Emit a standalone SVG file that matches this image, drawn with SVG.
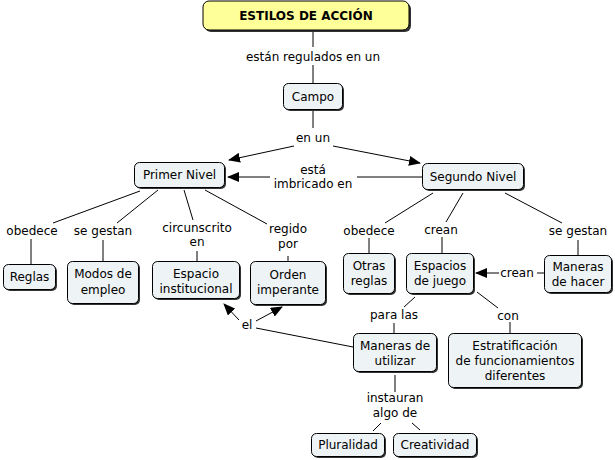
<svg xmlns="http://www.w3.org/2000/svg" width="615" height="460" viewBox="0 0 615 460">
<defs>
<marker id="ah" markerWidth="12" markerHeight="10" refX="11" refY="5" orient="auto" markerUnits="userSpaceOnUse">
<path d="M0,0 L12,5 L0,10 Z" fill="#000"/>
</marker>
<style>
text{font-family:"DejaVu Sans",Verdana,sans-serif;font-size:12px;fill:#000;text-anchor:middle}
.sh{fill:#333}
.nd{fill:#eef3f5;stroke:#000;stroke-width:1}
.tt{fill:#ffff99;stroke:#000;stroke-width:1}
.c line,.c polyline{stroke:#000;stroke-width:1;fill:none}
.ar{marker-end:url(#ah)}
</style>
</defs>
<rect width="615" height="460" fill="#fff"/>
<g class="c" id="connectors">
<line x1="313" y1="31" x2="313" y2="47"/>
<line x1="313" y1="65" x2="313" y2="83"/>
<line x1="313" y1="110" x2="313" y2="128"/>
<line class="ar" x1="294" y1="146" x2="229" y2="160"/>
<line class="ar" x1="333" y1="146" x2="420" y2="163"/>
<line x1="422" y1="177" x2="357" y2="177"/>
<line class="ar" x1="270" y1="177" x2="228" y2="177"/>
<line x1="140" y1="191" x2="53" y2="223"/>
<line x1="31" y1="239" x2="31" y2="264"/>
<line x1="158" y1="190" x2="117" y2="223"/>
<line x1="103" y1="240" x2="103" y2="261"/>
<line x1="184" y1="190" x2="193" y2="220"/>
<line x1="197" y1="251" x2="197" y2="261"/>
<line x1="205" y1="190" x2="267" y2="224"/>
<line x1="288" y1="256" x2="288" y2="261"/>
<line x1="433" y1="193" x2="385" y2="223"/>
<line x1="369" y1="238" x2="369" y2="253"/>
<line x1="463" y1="193" x2="446" y2="222"/>
<line x1="442" y1="237" x2="442" y2="253"/>
<line x1="505" y1="193" x2="562" y2="223"/>
<line x1="578" y1="240" x2="578" y2="255"/>
<line class="ar" x1="499" y1="273" x2="476" y2="273"/>
<line x1="537" y1="273" x2="544" y2="273"/>
<line x1="415" y1="297" x2="404" y2="307"/>
<line x1="394" y1="323" x2="394" y2="333"/>
<line x1="477" y1="292" x2="498" y2="308"/>
<line x1="510" y1="322" x2="510" y2="333"/>
<line x1="395" y1="375" x2="395" y2="392"/>
<line x1="381" y1="423" x2="373" y2="431"/>
<line x1="412" y1="423" x2="420" y2="430"/>
<line x1="353" y1="347" x2="256" y2="328"/>
<line class="ar" x1="239" y1="320" x2="224" y2="304"/>
<line class="ar" x1="256" y1="321" x2="282" y2="307"/>
</g>
<g id="labels">
<text x="313" y="61">están regulados en un</text>
<text x="313" y="142">en un</text>
<text x="313" y="174">está</text>
<text x="313" y="188">imbricado en</text>
<text x="32" y="235">obedece</text>
<text x="103" y="235">se gestan</text>
<text x="197" y="232">circunscrito</text>
<text x="197" y="246">en</text>
<text x="288" y="233">regido</text>
<text x="288" y="248">por</text>
<text x="369" y="235">obedece</text>
<text x="441" y="234">crean</text>
<text x="578" y="235">se gestan</text>
<text x="517" y="277">crean</text>
<text x="394" y="319">para las</text>
<text x="508" y="320">con</text>
<text x="395" y="402">instauran</text>
<text x="395" y="417">algo de</text>
<text x="247" y="329">el</text>
</g>
<g id="n-title"><rect class="sh" x="205" y="3" width="206" height="29" rx="6"/><rect class="tt" x="203" y="1" width="206" height="29" rx="6"/><text x="306" y="20" style="font-weight:bold">ESTILOS DE ACCIÓN</text></g>
<g id="n-campo"><rect class="sh" x="285" y="85" width="59" height="26" rx="5"/><rect class="nd" x="283.5" y="83.5" width="59" height="26" rx="5"/><text x="313" y="101">Campo</text></g>
<g id="n-primer"><rect class="sh" x="136" y="164" width="90" height="25" rx="5"/><rect class="nd" x="134.5" y="162.5" width="90" height="25" rx="5"/><text x="179.5" y="179">Primer Nivel</text></g>
<g id="n-segundo"><rect class="sh" x="424" y="165" width="101" height="26" rx="5"/><rect class="nd" x="422.5" y="163.5" width="101" height="26" rx="5"/><text x="473" y="181">Segundo Nivel</text></g>
<g id="n-reglas"><rect class="sh" x="5" y="266" width="52" height="25" rx="5"/><rect class="nd" x="3.5" y="264.5" width="52" height="25" rx="5"/><text x="29.5" y="281">Reglas</text></g>
<g id="n-modos"><rect class="sh" x="69" y="263" width="71" height="42" rx="5"/><rect class="nd" x="67.5" y="261.5" width="71" height="42" rx="5"/><text x="103" y="278">Modos de</text><text x="103" y="294">empleo</text></g>
<g id="n-espacio"><rect class="sh" x="154" y="263" width="87" height="37" rx="5"/><rect class="nd" x="152.5" y="261.5" width="87" height="37" rx="5"/><text x="196" y="278">Espacio</text><text x="196" y="293">institucional</text></g>
<g id="n-orden"><rect class="sh" x="252" y="263" width="75" height="43" rx="5"/><rect class="nd" x="250.5" y="261.5" width="75" height="43" rx="5"/><text x="288" y="279">Orden</text><text x="288" y="294">imperante</text></g>
<g id="n-otras"><rect class="sh" x="345" y="255" width="51" height="40" rx="5"/><rect class="nd" x="343.5" y="253.5" width="51" height="40" rx="5"/><text x="369" y="270">Otras</text><text x="369" y="285">reglas</text></g>
<g id="n-espacios"><rect class="sh" x="408" y="255" width="67" height="40" rx="5"/><rect class="nd" x="406.5" y="253.5" width="67" height="40" rx="5"/><text x="440" y="270">Espacios</text><text x="440" y="285">de juego</text></g>
<g id="n-manerash"><rect class="sh" x="546" y="257" width="67" height="37" rx="5"/><rect class="nd" x="544.5" y="255.5" width="67" height="37" rx="5"/><text x="578" y="271">Maneras</text><text x="578" y="286">de hacer</text></g>
<g id="n-maneras"><rect class="sh" x="355" y="335" width="83" height="38" rx="5"/><rect class="nd" x="353.5" y="333.5" width="83" height="38" rx="5"/><text x="395" y="350">Maneras de</text><text x="395" y="365">utilizar</text></g>
<g id="n-estrat"><rect class="sh" x="450" y="335" width="133" height="54" rx="5"/><rect class="nd" x="448.5" y="333.5" width="133" height="54" rx="5"/><text x="515" y="350">Estratificación</text><text x="515" y="365">de funcionamientos</text><text x="515" y="380">diferentes</text></g>
<g id="n-plural"><rect class="sh" x="313" y="435" width="73" height="23" rx="5"/><rect class="nd" x="311.5" y="433.5" width="73" height="23" rx="5"/><text x="348" y="449">Pluralidad</text></g>
<g id="n-creat"><rect class="sh" x="395" y="435" width="83" height="23" rx="5"/><rect class="nd" x="393.5" y="433.5" width="83" height="23" rx="5"/><text x="435" y="449">Creatividad</text></g>
</svg>
